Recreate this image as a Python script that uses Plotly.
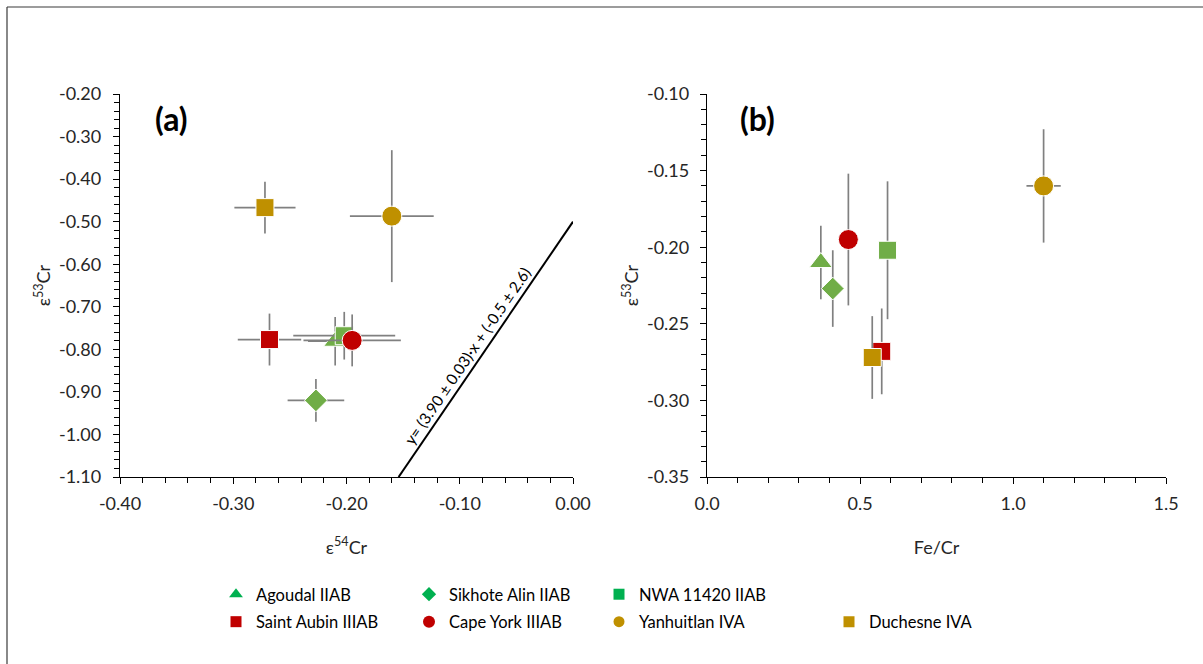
import plotly.graph_objects as go

# ---------------- data ----------------
names = ["Agoudal IIAB", "Sikhote Alin IIAB", "NWA 11420 IIAB",
         "Saint Aubin IIIAB", "Cape York IIIAB", "Yanhuitlan IVA", "Duchesne IVA"]
symbols = ["triangle-up", "diamond", "square", "square", "circle", "circle", "square"]
plot_colors = ["#70AD47", "#70AD47", "#70AD47", "#C00000", "#C00000", "#BF9000", "#BF9000"]
legend_colors = ["#00B050", "#00B050", "#00B050", "#C00000", "#C00000", "#BF9000", "#BF9000"]
marker_sizes = [20, 17.5, 18, 18, 20, 20, 18]
legend_sizes = [12, 11, 11, 11, 12, 11, 11]
legend_col = ["legend", "legend2", "legend3", "legend", "legend2", "legend3", "legend4"]

# panel (a): eps54Cr vs eps53Cr
e54 = [-0.210, -0.227, -0.202, -0.268, -0.195, -0.160, -0.272]
e54_err = [0.024, 0.025, 0.045, 0.028, 0.043, 0.037, 0.027]
e53 = [-0.781, -0.920, -0.768, -0.777, -0.779, -0.487, -0.467]
e53_err = [0.057, 0.050, 0.056, 0.061, 0.061, 0.155, 0.061]

# panel (b): Fe/Cr vs plotted epsilon value
fe_cr = [0.372, 0.411, 0.590, 0.571, 0.462, 1.100, 0.540]
fe_cr_err = [0.0, 0.0, 0.0, 0.0, 0.0, 0.056, 0.0]
b_y = [-0.210, -0.227, -0.202, -0.268, -0.195, -0.160, -0.272]
b_y_err = [0.024, 0.025, 0.045, 0.028, 0.043, 0.037, 0.027]

# regression line in panel (a)
fit_x = [-0.154, 0.0]
fit_y = [-1.10, -0.50]
fit_label = "y= (3.90 ± 0.03)·x + (-0.5 ± 2.6)"

# tick labels
a_xticks = [-0.40, -0.30, -0.20, -0.10, 0.00]
a_xlabels = ["-0.40", "-0.30", "-0.20", "-0.10", "0.00"]
a_yticks = [-0.20, -0.30, -0.40, -0.50, -0.60, -0.70, -0.80, -0.90, -1.00, -1.10]
a_ylabels = ["-0.20", "-0.30", "-0.40", "-0.50", "-0.60", "-0.70", "-0.80", "-0.90", "-1.00", "-1.10"]
b_xticks = [0.0, 0.5, 1.0, 1.5]
b_xlabels = ["0.0", "0.5", "1.0", "1.5"]
b_yticks = [-0.10, -0.15, -0.20, -0.25, -0.30, -0.35]
b_ylabels = ["-0.10", "-0.15", "-0.20", "-0.25", "-0.30", "-0.35"]

W, H = 1203, 664
FONT = "Lato, 'Open Sans', sans-serif"
TXT = "#262626"
ERR = "#808080"

fig = go.Figure()

for i, n in enumerate(names):
    fig.add_trace(go.Scatter(
        x=[e54[i]], y=[e53[i]], mode="markers", name=n, showlegend=False,
        marker=dict(symbol=symbols[i], size=marker_sizes[i], color=plot_colors[i],
                    line=dict(color="white", width=1)),
        error_x=dict(type="data", array=[e54_err[i]], color=ERR, thickness=1.7, width=0),
        error_y=dict(type="data", array=[e53_err[i]], color=ERR, thickness=1.7, width=0),
        xaxis="x", yaxis="y", cliponaxis=False))

fig.add_trace(go.Scatter(x=fit_x, y=fit_y, mode="lines", showlegend=False,
                         line=dict(color="black", width=2), xaxis="x", yaxis="y"))

for i, n in enumerate(names):
    fig.add_trace(go.Scatter(
        x=[fe_cr[i]], y=[b_y[i]], mode="markers", name=n, showlegend=False,
        marker=dict(symbol=symbols[i], size=marker_sizes[i], color=plot_colors[i],
                    line=dict(color="white", width=1)),
        error_x=dict(type="data", array=[fe_cr_err[i]], color=ERR, thickness=1.7, width=0),
        error_y=dict(type="data", array=[b_y_err[i]], color=ERR, thickness=1.7, width=0),
        xaxis="x2", yaxis="y2", cliponaxis=False))

# legend entries (Excel draws the legend symbols in these colours)
for i, n in enumerate(names):
    fig.add_trace(go.Scatter(
        x=[None], y=[None], mode="markers", name=n, legend=legend_col[i],
        legendgroup="g%d" % i,
        marker=dict(symbol=symbols[i], size=legend_sizes[i], color=legend_colors[i]),
        xaxis="x", yaxis="y"))

# ---------------- layout ----------------
def px_x(p):
    return p / W

def px_y(p):
    return 1 - p / H

ax_common = dict(showgrid=False, zeroline=False, showline=True, linecolor="black",
                 linewidth=1.3, ticks="outside", ticklen=6, tickcolor="black", tickwidth=1.3,
                 tickfont=dict(family=FONT, size=18, color=TXT), mirror=False,
                 tickmode="array", automargin=False)
minor_style = dict(ticks="outside", ticklen=5, tickcolor="black", tickwidth=1.3)
title_font = dict(family=FONT, size=18, color=TXT)
legend_font = dict(family=FONT, size=16.5, color="black")


def legend_box(left_px, mid_px):
    return dict(orientation="v", x=px_x(left_px), y=px_y(mid_px), xanchor="left",
                yanchor="middle", itemwidth=30, font=legend_font,
                bgcolor="rgba(0,0,0,0)", itemclick=False, itemdoubleclick=False,
                tracegroupgap=3)


fig.update_layout(
    width=W, height=H,
    margin=dict(l=0, r=0, t=0, b=0, pad=0, autoexpand=False),
    paper_bgcolor="white", plot_bgcolor="white",
    font=dict(family=FONT, color=TXT),
    xaxis=dict(**ax_common, domain=[px_x(120), px_x(573)], range=[-0.40, 0.0],
               tickvals=a_xticks, ticktext=a_xlabels, anchor="y",
               ticklabelstandoff=4,
               minor=dict(dtick=0.02, tick0=-0.4, **minor_style),
               title=dict(text="ε<sup>54</sup>Cr", font=title_font, standoff=28)),
    yaxis=dict(**ax_common, domain=[px_y(477), px_y(94)], range=[-1.10, -0.20],
               tickvals=a_yticks, ticktext=a_ylabels, anchor="x",
               ticklabelstandoff=8,
               minor=dict(dtick=0.02, tick0=-1.1, **minor_style),
               title=dict(text="ε<sup>53</sup>Cr", font=title_font, standoff=3)),
    xaxis2=dict(**ax_common, domain=[px_x(707), px_x(1166)], range=[0, 1.5],
                tickvals=b_xticks, ticktext=b_xlabels, anchor="y2",
                ticklabelstandoff=4,
                minor=dict(dtick=0.1, tick0=0, **minor_style),
                title=dict(text="Fe/Cr", font=title_font, standoff=28)),
    yaxis2=dict(**ax_common, domain=[px_y(477), px_y(94)], range=[-0.35, -0.10],
                tickvals=b_yticks, ticktext=b_ylabels, anchor="x2",
                ticklabelstandoff=7,
                minor=dict(dtick=0.01, tick0=-0.35, **minor_style),
                title=dict(text="ε<sup>53</sup>Cr", font=title_font, standoff=3)),
    legend=legend_box(216, 608),
    legend2=legend_box(409, 608),
    legend3=legend_box(599, 608),
    legend4=legend_box(829, 622),
    shapes=[
        dict(type="line", xref="paper", yref="paper", x0=px_x(7), x1=1.0,
             y0=px_y(7), y1=px_y(7), line=dict(color="#3A3A3A", width=1.2), layer="below"),
        dict(type="line", xref="paper", yref="paper", x0=px_x(7), x1=px_x(7),
             y0=0.0, y1=px_y(7), line=dict(color="#3A3A3A", width=1.2), layer="below"),
    ],
    annotations=[
        dict(text="<b>(a)</b>", xref="paper", yref="paper", x=px_x(171), y=px_y(118),
             xanchor="center", yanchor="middle",
             showarrow=False, font=dict(family=FONT, size=32, color="black")),
        dict(text="<b>(b)</b>", xref="paper", yref="paper", x=px_x(757), y=px_y(118),
             xanchor="center", yanchor="middle",
             showarrow=False, font=dict(family=FONT, size=32, color="black")),
        dict(text=fit_label, xref="x", yref="y", x=-0.0935, y=-0.815, showarrow=False,
             xanchor="center", yanchor="middle",
             textangle=-55.7, font=dict(family=FONT, size=15.5, color="black")),
    ],
)

fig.write_html("out.html")
